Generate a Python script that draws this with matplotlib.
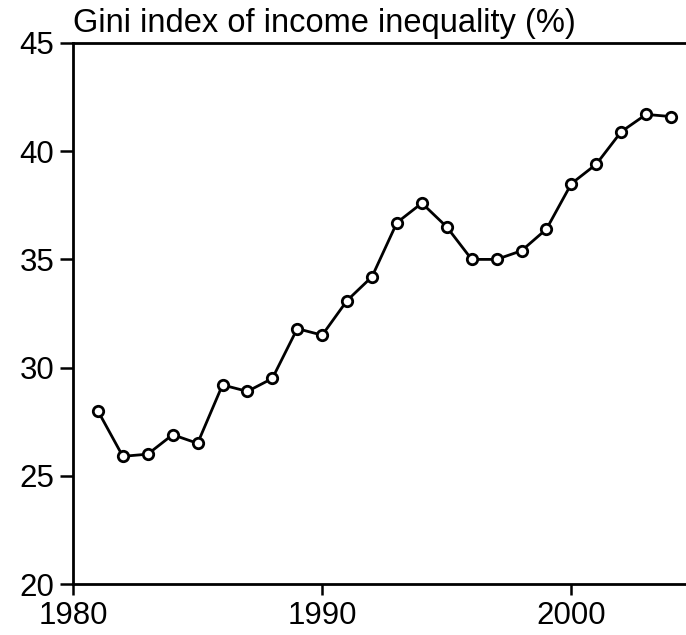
import matplotlib
matplotlib.use('Agg')
import matplotlib.pyplot as plt

# Gini index
years = [1981, 1982, 1983, 1984, 1985, 1986, 1987, 1988, 1989, 1990,
         1991, 1992, 1993, 1994, 1995, 1996, 1997, 1998, 1999, 2000,
         2001, 2002, 2003, 2004]
gini = [28.0, 25.9, 26.0, 26.9, 26.5, 29.2, 28.9, 29.5, 31.8, 31.5,
        33.1, 34.2, 36.7, 37.6, 36.5, 35.0, 35.0, 35.4, 36.4, 38.5,
        39.4, 40.9, 41.7, 41.6]
xticks = [1980, 1990, 2000]
yticks = [20, 25, 30, 35, 40, 45]

plt.rcParams['font.family'] = ['Liberation Sans', 'DejaVu Sans']

fig = plt.figure(figsize=(6.86, 6.35), dpi=100)
ax = fig.add_axes([0.1064, 0.0803, 0.8936, 0.852])

ax.plot(years, gini, color='black', linewidth=2, marker='o',
        markersize=7.5, markerfacecolor='white', markeredgecolor='black',
        markeredgewidth=2)

ax.set_xlim(1980, 2004.6)
ax.set_ylim(20, 45)
ax.set_xticks(xticks)
ax.set_yticks(yticks)
ax.tick_params(axis='y', direction='out', length=9.5, width=1.8, pad=4, labelsize=22.5)
ax.tick_params(axis='x', direction='out', length=8, width=1.8, pad=4, labelsize=22.5)

ax.spines['right'].set_visible(False)
for s in ['left', 'bottom', 'top']:
    ax.spines[s].set_linewidth(2)

ax.text(0.0, 1.02, 'Gini index of income inequality (%)', transform=ax.transAxes,
        ha='left', va='baseline', fontsize=23.5)

fig.savefig('out.png', dpi=100)
